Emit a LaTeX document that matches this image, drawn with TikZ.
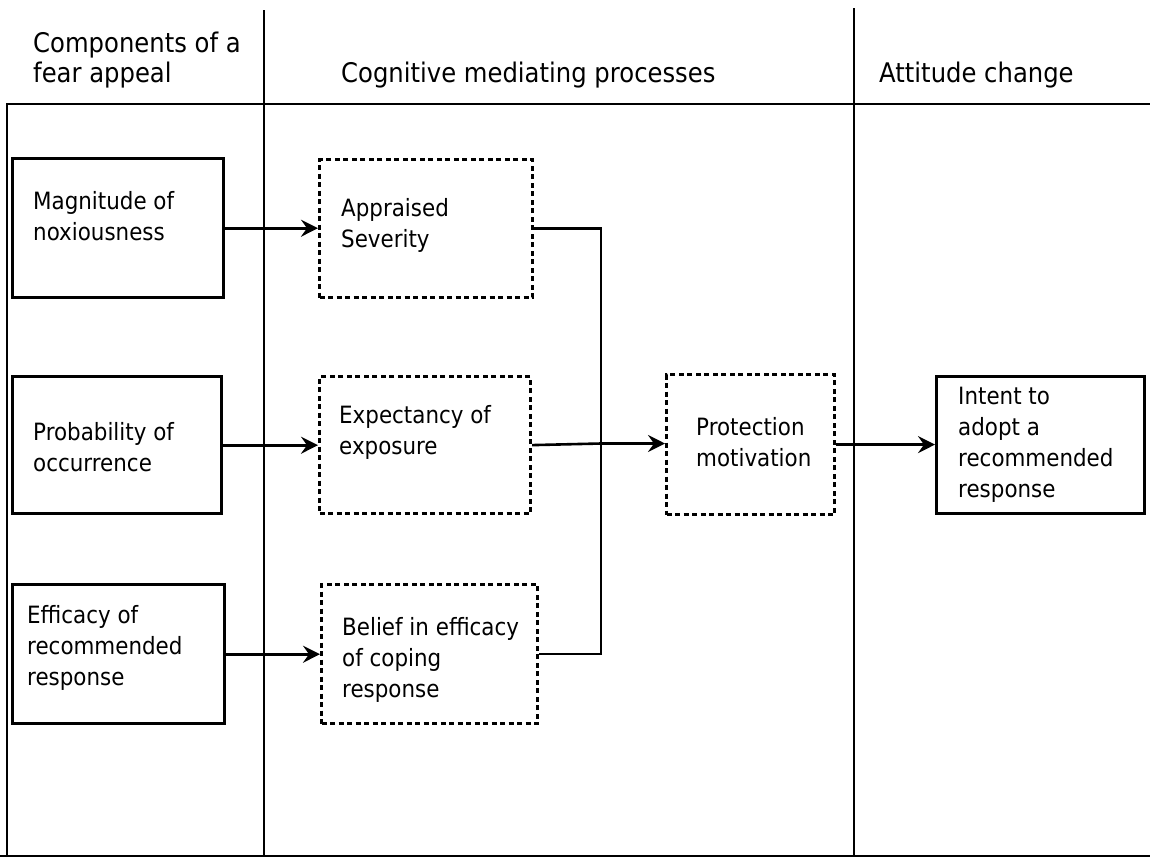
\documentclass[tikz,border=0pt]{standalone}
\usepackage{fontspec}
\setmainfont{DejaVu Sans}[FakeStretch=0.9]
\usetikzlibrary{arrows.meta,positioning}

\begin{document}
\begin{tikzpicture}[x=1pt,y=-1pt,
  frame/.style={line width=2.8pt},
  box/.style={draw,line width=3.4pt,anchor=north west,inner sep=0pt},
  dashbox/.style={box,line width=3.2pt,dash pattern=on 5pt off 3.5pt},
  hdr/.style={anchor=west,align=left,inner sep=0pt,font=\fontsize{27}{30}\selectfont},
  txt/.style={anchor=west,align=left,inner sep=0pt,font=\fontsize{23.8}{31}\selectfont},
  conn/.style={line width=2.6pt},
  arr/.style={conn,-{Stealth[length=17pt,width=17pt,inset=6pt]}}]
\useasboundingbox (0,0) rectangle (1150,857);
% draw table frame
\draw[frame] (7,857) -- (7,104) -- (1150,104);
\draw[frame] (0,856) -- (1150,856);
\draw[frame] (264,10) -- (264,857);
\draw[frame] (854,8) -- (854,857);
% draw column headers
\node[hdr] (h-fear) at (33,60) {Components of a\\fear appeal};
\node[hdr] (h-cogn) at (341,75) {Cognitive mediating processes};
\node[hdr] (h-att) at (879,75) {Attitude change};
% draw components of a fear appeal
\node[box,minimum width=211pt,minimum height=139pt] (mag) at (11,157) {};
\node[txt] (mag-t) at (33,216.5) {Magnitude of\\noxiousness};
\node[box,minimum width=209pt,minimum height=137pt] (prob) at (11,375) {};
\node[txt] (prob-t) at (33,447.5) {Probability of\\occurrence};
\node[box,minimum width=212pt,minimum height=139pt] (eff) at (11,583) {};
\node[txt] (eff-t) at (27,648) {Efficacy of\\recommended\\response};
% draw cognitive mediating processes
\node[dashbox,minimum width=213pt,minimum height=138pt] (appr) at (318,158) {};
\node[txt] (appr-t) at (341,225.5) {Appraised\\Severity};
\node[dashbox,minimum width=211pt,minimum height=137pt] (expe) at (318,375) {};
\node[txt] (expe-t) at (339,432.5) {Expectancy of\\exposure};
\node[dashbox,minimum width=216pt,minimum height=139pt] (beli) at (320,583) {};
\node[txt] (beli-t) at (342,660) {Belief in efficacy\\of coping\\response};
\node[dashbox,minimum width=168pt,minimum height=140pt] (prot) at (665,373) {};
\node[txt] (prot-t) at (696,442.5) {Protection\\motivation};
% draw attitude change
\node[box,minimum width=208pt,minimum height=137pt] (intent) at (935,375) {};
\node[txt] (intent-t) at (958,444.5) {Intent to\\adopt a\\recommended\\response};
% draw connectors
\draw[arr] (mag.east) -- (mag.east -| appr.west);
\draw[arr] (prob.east) -- (prob.east -| expe.west);
\draw[arr] (eff.east) -- (eff.east -| beli.west);
\coordinate (bus) at (601,443.5);
\draw[conn] (appr.east) -| (bus) |- (beli.east);
\draw[conn] (expe.east) -- (bus);
\draw[arr,line width=3.2pt] (bus) -- (bus -| prot.west);
\draw[arr] (prot.east) -- (prot.east -| intent.west);
\end{tikzpicture}
\end{document}
